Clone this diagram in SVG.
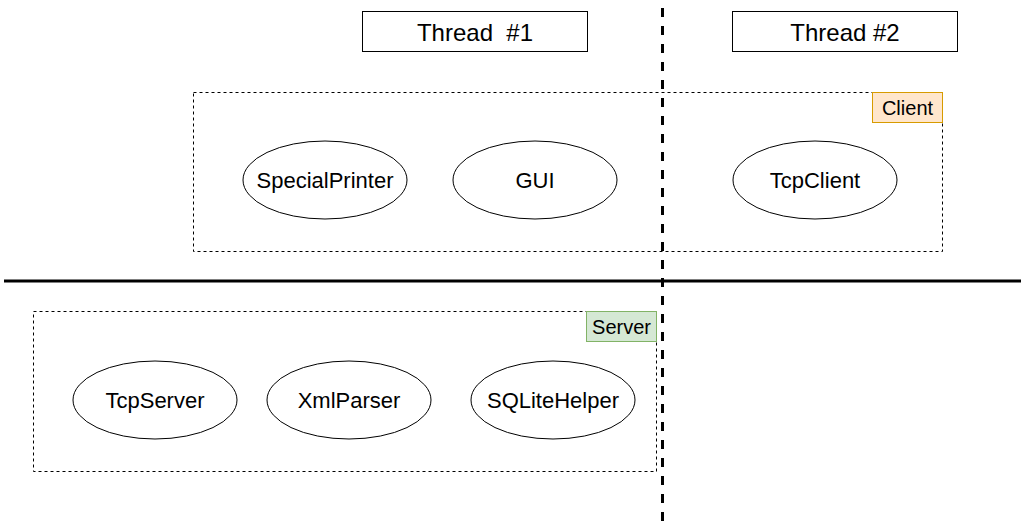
<svg xmlns="http://www.w3.org/2000/svg" width="1025" height="524" viewBox="0 0 1025 524">
<style>
.box{fill:#fff;stroke:#000;stroke-width:1}
.grp{fill:none;stroke:#000;stroke-width:1;stroke-dasharray:3 3}
.ell{fill:#fff;stroke:#000;stroke-width:1}
.t{font-family:"Liberation Sans",Arial,sans-serif;font-size:22px;fill:#000;text-anchor:middle;dominant-baseline:central;white-space:pre}
.s{font-size:20px}
.h{font-size:24px}
</style>
<rect width="1025" height="524" fill="#fff"/>
<g id="thread1"><rect class="box" x="362.5" y="11.5" width="225" height="40"/><text class="t h" x="475" y="32" xml:space="preserve">Thread  #1</text></g>
<g id="thread2"><rect class="box" x="732.5" y="11.5" width="225" height="40"/><text class="t h" x="845" y="32">Thread #2</text></g>
<g id="client"><rect class="grp" x="193.5" y="92.5" width="749" height="159"/><rect x="872.5" y="92.5" width="70" height="30" fill="#ffe6cc" stroke="#d79b00"/><text class="t s" x="907.5" y="107.5">Client</text></g>
<g id="server"><rect class="grp" x="33.5" y="311.5" width="623" height="160"/><rect x="586.5" y="311.5" width="70" height="30" fill="#d5e8d4" stroke="#82b366"/><text class="t s" x="621.5" y="326.5">Server</text></g>
<g id="connectors">
<line x1="662.5" y1="8" x2="662.5" y2="524" stroke="#000" stroke-width="3" stroke-dasharray="9 9"/>
<line x1="4" y1="281" x2="1021" y2="281" stroke="#000" stroke-width="3"/>
</g>
<g id="specialprinter"><ellipse class="ell" cx="325" cy="180" rx="82" ry="39"/><text class="t" x="325" y="180">SpecialPrinter</text></g>
<g id="gui"><ellipse class="ell" cx="535" cy="180" rx="82" ry="39"/><text class="t" x="535" y="180">GUI</text></g>
<g id="tcpclient"><ellipse class="ell" cx="815" cy="180" rx="82" ry="39"/><text class="t" x="815" y="180">TcpClient</text></g>
<g id="tcpserver"><ellipse class="ell" cx="155" cy="400" rx="82" ry="39"/><text class="t" x="155" y="400">TcpServer</text></g>
<g id="xmlparser"><ellipse class="ell" cx="349" cy="400" rx="82" ry="39"/><text class="t" x="349" y="400">XmlParser</text></g>
<g id="sqlitehelper"><ellipse class="ell" cx="553" cy="400" rx="82" ry="39"/><text class="t" x="553" y="400">SQLiteHelper</text></g>
</svg>
